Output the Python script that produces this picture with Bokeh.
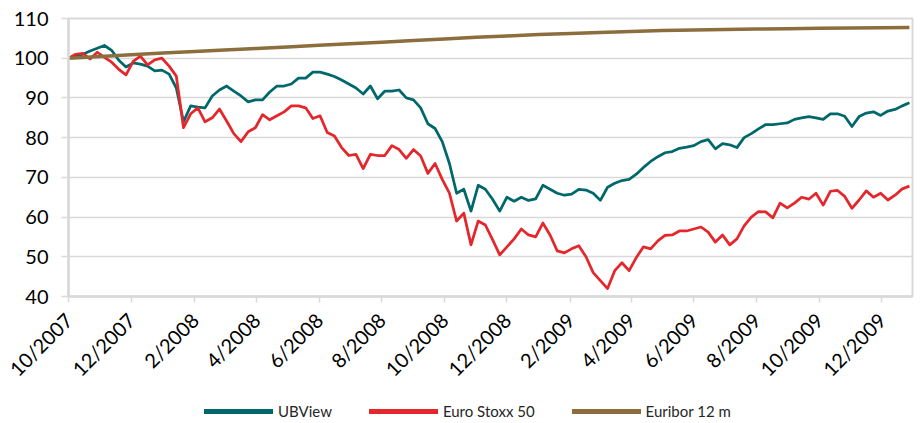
import math
from datetime import datetime
import pandas as pd
from bokeh.plotting import figure
from bokeh.layouts import column
from bokeh.models import Range1d, FixedTicker, Legend, LegendItem, ColumnDataSource
from bokeh.embed import file_html
from bokeh.resources import INLINE

# ---------------- data ----------------
start_date = "2007-10-01"

ubview = [100, 100.5, 101, 101.8, 102.5, 103.2, 102, 99.5, 97.8, 98.8, 98.5, 98, 96.8, 97, 96,
          92.5, 84, 88, 87.7, 87.5, 90.5, 92, 93, 91.7, 90.5, 89, 89.5, 89.5, 91.5,
          93, 93, 93.5, 95, 95, 96.5, 96.5, 96, 95.4, 94.5, 93.5, 92.5, 91, 93, 89.8,
          91.7, 91.7, 92, 90, 89.5, 87.5, 83.5, 82.3, 79, 73.5, 66, 67, 61.5, 68, 67,
          64.5, 61.5, 65, 64, 65, 64.2, 64.6, 68, 67, 66, 65.5, 65.8, 67, 66.8, 66,
          64.2, 67.5, 68.5, 69.2, 69.5, 70.8, 72.5, 74, 75.2, 76.2, 76.5, 77.3, 77.6, 78, 79,
          79.5, 77.2, 78.5, 78.2, 77.5, 80, 81, 82.2, 83.3, 83.3, 83.5, 83.7, 84.6, 85,
          85.3, 85, 84.6, 86, 86, 85.4, 82.8, 85.3, 86.2, 86.5, 85.6, 86.7, 87.1, 88, 88.8]

euro_stoxx = [100, 101, 101.2, 99.8, 101.5, 100.2, 99, 97.2, 95.8, 99.2, 100.5, 98.3, 99.6, 100, 98,
              95.5, 82.5, 86, 87.5, 84, 85, 87.2, 84.2, 81, 79, 81.5, 82.5, 85.8, 84.5,
              85.5, 86.5, 88, 88, 87.5, 84.8, 85.5, 81.3, 80.4, 77.5, 75.5, 75.8, 72.2, 75.8, 75.5,
              75.5, 78, 77, 74.8, 77, 75.4, 71, 73.5, 69.5, 66, 59, 61, 53, 59, 58,
              54.3, 50.5, 52.5, 54.5, 57, 55.5, 55, 58.5, 55.5, 51.5, 51, 52, 52.8, 50, 46,
              44, 42, 46.5, 48.5, 46.5, 49.8, 52.5, 52, 54, 55.4, 55.5, 56.5, 56.5, 57, 57.5,
              56.2, 53.7, 55.5, 53, 54.5, 57.8, 60, 61.4, 61.3, 59.8, 63.5, 62.3, 63.5, 65,
              64.5, 66, 63, 66.5, 66.7, 65.2, 62.2, 64.3, 66.6, 65, 66, 64.3, 65.5, 67.1, 67.8]

euribor_dates = ["2007-10-01", "2007-11-01", "2007-12-01", "2008-01-01", "2008-02-01", "2008-03-01",
                 "2008-04-01", "2008-05-01", "2008-06-01", "2008-07-01", "2008-08-01", "2008-09-01",
                 "2008-10-01", "2008-11-01", "2008-12-01", "2009-01-01", "2009-02-01", "2009-03-01",
                 "2009-04-01", "2009-05-01", "2009-06-01", "2009-07-01", "2009-08-01", "2009-09-01",
                 "2009-10-01", "2009-11-01", "2009-12-01", "2009-12-28"]
euribor = [100, 100.45, 100.9, 101.3, 101.7, 102.05, 102.45, 102.85, 103.25, 103.65, 104.05, 104.45,
           104.85, 105.25, 105.6, 105.95, 106.25, 106.5, 106.75, 106.95, 107.1, 107.25, 107.35, 107.45,
           107.55, 107.6, 107.7, 107.75]

tick_labels = ["10/2007", "12/2007", "2/2008", "4/2008", "6/2008", "8/2008", "10/2008",
               "12/2008", "2/2009", "4/2009", "6/2009", "8/2009", "10/2009", "12/2009"]
y_ticks = [40, 50, 60, 70, 80, 90, 100, 110]

series_names = ["UBView", "Euro Stoxx 50", "Euribor 12 m"]
colors = ["#00676A", "#E5262B", "#8B6D3E"]

# ---------------- build ----------------
week_dates = pd.date_range(start_date, periods=len(ubview), freq="7D")
eur_dates = pd.to_datetime(euribor_dates)

src_w = ColumnDataSource(dict(x=week_dates, ub=ubview, es=euro_stoxx))
src_e = ColumnDataSource(dict(x=eur_dates, eu=euribor))

tick_dt = [datetime(int(s.split("/")[1]), int(s.split("/")[0]), 1) for s in tick_labels]
tick_ms = [pd.Timestamp(d).value / 1e6 for d in tick_dt]

FONT = "Lato"
X_RANGE = (datetime(2007, 10, 1), datetime(2009, 12, 31))

p = figure(width=914, height=392, x_axis_type="datetime",
           x_range=Range1d(*X_RANGE), y_range=Range1d(40, 110),
           output_backend="svg", toolbar_location=None,
           min_border_left=68, min_border_top=18, min_border_right=2, min_border_bottom=94)

p.outline_line_color = "#d9d9d9"
p.outline_line_width = 2
p.xgrid.visible = False
p.ygrid.grid_line_color = "#d9d9d9"
p.ygrid.grid_line_width = 1.5

p.xaxis.ticker = FixedTicker(ticks=tick_ms)
p.xaxis.major_label_overrides = {t: lab for t, lab in zip(tick_ms, tick_labels)}
p.xaxis.major_label_orientation = math.pi / 4
p.yaxis.ticker = FixedTicker(ticks=y_ticks)

for ax in (p.xaxis[0], p.yaxis[0]):
    ax.axis_line_color = "#d9d9d9"
    ax.axis_line_width = 2.5
    ax.major_tick_line_color = "#d9d9d9"
    ax.major_tick_line_width = 1.5
    ax.major_tick_in = 0
    ax.minor_tick_line_color = None
    ax.major_label_text_font = FONT
    ax.major_label_text_font_size = "20px"
    ax.major_label_text_color = "#000000"
p.xaxis.major_tick_out = 6
p.xaxis.major_label_standoff = 14
p.yaxis.major_tick_out = 7
p.yaxis.major_label_standoff = 13

p.line("x", "ub", source=src_w, color=colors[0], line_width=2.75, line_join="round")
p.line("x", "es", source=src_w, color=colors[1], line_width=2.75, line_join="round")
p.line("x", "eu", source=src_e, color=colors[2], line_width=3.5, line_join="round")

# ---------------- legend strip ----------------
leg_fig = figure(width=914, height=30, x_axis_type="datetime",
                 x_range=Range1d(*X_RANGE), y_range=Range1d(40, 110),
                 output_backend="svg", toolbar_location=None,
                 x_axis_location=None, y_axis_location=None, min_border=0)
leg_fig.outline_line_color = None
leg_fig.xgrid.visible = False
leg_fig.ygrid.visible = False

proxies = []
for col, vals, dts in ((colors[0], ubview, week_dates),
                       (colors[1], euro_stoxx, week_dates),
                       (colors[2], euribor, eur_dates)):
    # single-point lines: draw nothing, only serve the legend swatches
    proxies.append(leg_fig.line(x=[dts[0]], y=[vals[0]], color=col, line_width=5, line_cap="round"))

legend = Legend(items=[LegendItem(label=n, renderers=[r]) for n, r in zip(series_names, proxies)],
                orientation="horizontal", location=(136, 2),
                glyph_width=69, glyph_height=16, label_standoff=5, spacing=37,
                padding=0, margin=0, border_line_color=None, background_fill_alpha=0,
                label_text_font=FONT, label_text_font_size="15px", label_text_color="#262626")
leg_fig.add_layout(legend, "center")

layout = column(p, leg_fig, spacing=0)
open("out.html", "w").write(file_html(layout, INLINE))
